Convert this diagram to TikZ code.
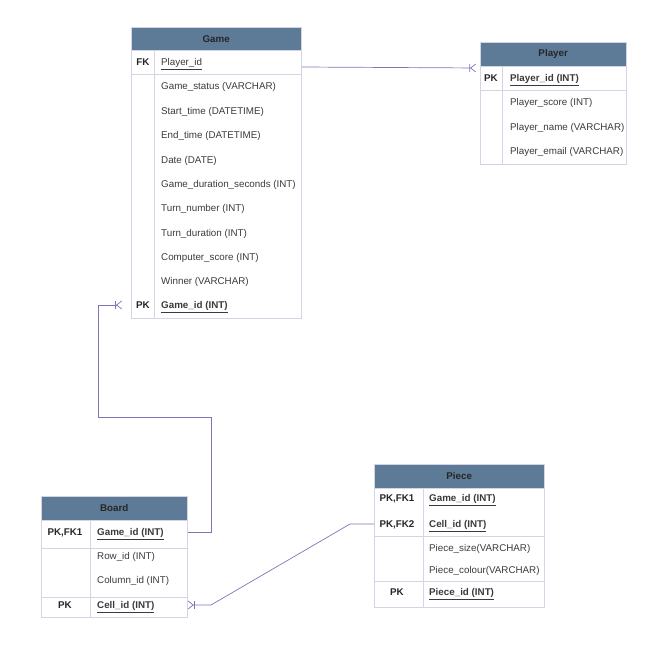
\documentclass[tikz,border=0pt]{standalone}
\usepackage{fontspec}
\setmainfont{Liberation Sans}
\usetikzlibrary{arrows.meta}
\definecolor{headblue}{HTML}{5D7B97}
\definecolor{rimgrey}{HTML}{D4D4E6}
\definecolor{linkviolet}{HTML}{7D75BA}
\definecolor{inkgrey}{HTML}{3A3A3A}

\begin{document}
\begin{tikzpicture}[x=1pt,y=-1pt]
      \tikzstyle{entity}=[draw=rimgrey,fill=headblue,anchor=north west,inner sep=0pt,minimum height=24pt,text=black!85,font=\fontsize{9.8}{11}\selectfont\bfseries]
      \tikzstyle{body}=[draw=rimgrey,line width=0.8pt,anchor=north west,inner sep=0pt]
      \tikzstyle{keyname}=[inner sep=0pt,text height=7pt,text depth=0pt,text=black!85,font=\fontsize{9.8}{11}\selectfont\bfseries]
      \tikzstyle{field}=[anchor=west,inner sep=0pt,text height=7pt,text depth=0pt,text=inkgrey,font=\fontsize{9.8}{11}\selectfont]
      \tikzstyle{rim}=[draw=rimgrey,line width=0.8pt]
      \tikzstyle{link}=[draw=linkviolet,line width=0.7pt]
      \tikzstyle{crow}=[-{Bar[width=8pt,line width=0.7pt]Straight Barb[reversed,length=5pt,width=8pt,line width=0.7pt]}]
      \useasboundingbox (0,0) rectangle (649,656);
      % Game
      \node[body,minimum width=170pt,minimum height=268pt] (game_box) at (131,50) {};
      \node[entity,minimum width=170pt,minimum height=23pt] (game) at (131,27) {Game};
      \draw[rim] (154,50) -- (154,318);
      \draw[rim] (131,74) -- (301,74);
      \node[keyname] (g_k1) at (143,62) {FK};
      \node[field] (g_1) at (161,62) {\underline{Player\_id}};
      \node[field] (g_2) at (161,86) {Game\_status (VARCHAR)};
      \node[field] (g_3) at (161,111) {Start\_time (DATETIME)};
      \node[field] (g_4) at (161,135) {End\_time (DATETIME)};
      \node[field] (g_5) at (161,160) {Date (DATE)};
      \node[field] (g_6) at (161,184) {Game\_duration\_seconds (INT)};
      \node[field] (g_7) at (161,208) {Turn\_number (INT)};
      \node[field] (g_8) at (161,233) {Turn\_duration (INT)};
      \node[field] (g_9) at (161,257) {Computer\_score (INT)};
      \node[field] (g_10) at (161,281) {Winner (VARCHAR)};
      \node[keyname] (g_k11) at (143,305) {PK};
      \node[field,font=\fontsize{9.8}{11}\selectfont\bfseries] (g_11) at (161,305) {\underline{Game\_id (INT)}};
      % Player
      \node[body,minimum width=146pt,minimum height=98pt] (player_box) at (480,66) {};
      \node[entity,minimum width=146pt] (player) at (480,42) {Player};
      \draw[rim] (502,66) -- (502,164);
      \draw[rim] (480,90) -- (626,90);
      \node[keyname] (p_k1) at (491,78) {PK};
      \node[field,font=\fontsize{9.8}{11}\selectfont\bfseries] (p_1) at (510,78) {\underline{Player\_id (INT)}};
      \node[field] (p_2) at (510,102) {Player\_score (INT)};
      \node[field] (p_3) at (510,127) {Player\_name (VARCHAR)};
      \node[field] (p_4) at (510,151) {Player\_email (VARCHAR)};
      % Board
      \node[body,minimum width=146pt,minimum height=97pt] (board_box) at (41,520) {};
      \node[entity,minimum width=146pt] (board) at (41,496) {Board};
      \draw[rim] (90.5,520) -- (90.5,617);
      \draw[rim] (41,548) -- (187,548);
      \draw[rim] (41,597) -- (187,597);
      \node[keyname] (b_k1) at (65,532) {PK,FK1};
      \node[field,font=\fontsize{9.8}{11}\selectfont\bfseries] (b_1) at (97,532) {\underline{Game\_id (INT)}};
      \node[field] (b_2) at (97,556) {Row\_id (INT)};
      \node[field] (b_3) at (97,580) {Column\_id (INT)};
      \node[keyname] (b_k4) at (65,605) {PK};
      \node[field,font=\fontsize{9.8}{11}\selectfont\bfseries] (b_4) at (97,605) {\underline{Cell\_id (INT)}};
      % Piece
      \node[body,minimum width=170pt,minimum height=119pt] (piece_box) at (374,488) {};
      \node[entity,minimum width=170pt] (piece) at (374,464) {Piece};
      \draw[rim] (423,488) -- (423,607);
      \draw[rim] (374,536) -- (544,536);
      \draw[rim] (374,581) -- (544,581);
      \node[keyname] (q_k1) at (397,498) {PK,FK1};
      \node[field,font=\fontsize{9.8}{11}\selectfont\bfseries] (q_1) at (429,498) {\underline{Game\_id (INT)}};
      \node[keyname] (q_k2) at (397,524) {PK,FK2};
      \node[field,font=\fontsize{9.8}{11}\selectfont\bfseries] (q_2) at (429,524) {\underline{Cell\_id (INT)}};
      \node[field] (q_3) at (429,548) {Piece\_size(VARCHAR)};
      \node[field] (q_4) at (429,570) {Piece\_colour(VARCHAR)};
      \node[keyname] (q_k5) at (397,592) {PK};
      \node[field,font=\fontsize{9.8}{11}\selectfont\bfseries] (q_5) at (429,592) {\underline{Piece\_id (INT)}};
      % relations
      \draw[link,crow,shorten >=4pt] ([yshift=-5pt]game_box.east |- g_1) -- ([yshift=10pt]player_box.west |- p_1);
      \draw[link,crow,shorten >=9pt] (board_box.east |- b_1) -| (211,417) -| (98,305) -- (game_box.west |- g_11);
      \draw[link,crow] (piece_box.west |- q_2) -- (350,524) -- (211,605) -- (board_box.east |- b_4);
    \end{tikzpicture}
\end{document}
